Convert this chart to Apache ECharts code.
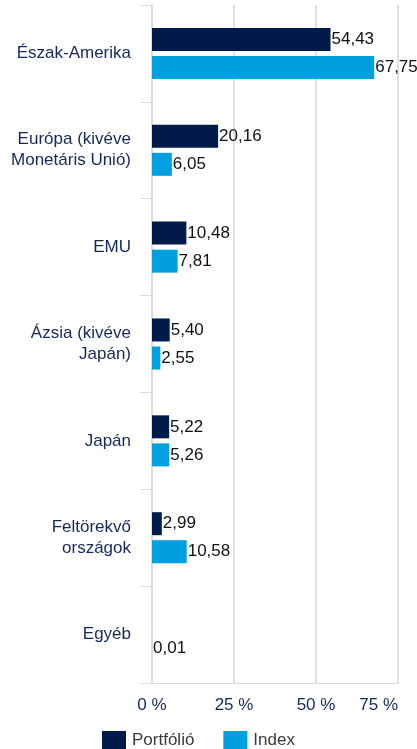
<!DOCTYPE html>
<html>
<head>
<meta charset="utf-8">
<script src="https://cdn.jsdelivr.net/npm/echarts@6/dist/echarts.min.js"></script>
<style>
  html, body { margin: 0; padding: 0; background: #fff; }
  #main { width: 417px; height: 749px; }
</style>
</head>
<body>
<div id="main"></div>
<script>
// régiók felülről lefelé
var categories = ['Észak-Amerika', 'Európa (kivéve\nMonetáris Unió)', 'EMU', 'Ázsia (kivéve\nJapán)', 'Japán', 'Feltörekvő\nországok', 'Egyéb'];
var portfolio = [54.43, 20.16, 10.48, 5.40, 5.22, 2.99, null];
var indexVals = [67.75, 6.05, 7.81, 2.55, 5.26, 10.58, 0.01];
var xTicks = [0, 25, 50, 75];

var myChart = echarts.init(document.getElementById('main'));

function comma(p) {
    if (p.value == null) return '';
    return p.value.toFixed(2).replace('.', ',');
}

var option = {
    animation: false,
    textStyle: { fontFamily: 'Liberation Sans, Arial, sans-serif' },
    grid: { left: 152, right: 19, top: 5, bottom: 66 },
    legend: {
        bottom: 0,
        left: 102,
        padding: 0,
        itemWidth: 24,
        itemHeight: 18,
        itemGap: 29,
        icon: 'rect',
        textStyle: { color: '#3a3a3a', fontSize: 17, padding: [0, 0, 0, 1] },
        data: ['Portfólió', 'Index']
    },
    xAxis: {
        type: 'value',
        min: xTicks[0],
        max: xTicks[xTicks.length - 1],
        interval: 25,
        axisLine: { show: true, lineStyle: { color: '#d9d9d9' } },
        axisTick: { show: false },
        splitLine: { lineStyle: { color: '#d9d9d9', width: 1.5 } },
        axisLabel: {
            color: '#14285a',
            fontSize: 17,
            margin: 14,
            alignMaxLabel: 'right',
            formatter: '{value} %'
        }
    },
    yAxis: {
        type: 'category',
        inverse: true,
        data: categories,
        axisLine: { show: true, lineStyle: { color: '#d9d9d9', width: 1.5 } },
        axisTick: { show: true, length: 12, lineStyle: { color: '#d4dbec' } },
        axisLabel: { color: '#14285a', fontSize: 17, margin: 21, lineHeight: 21, align: 'right' }
    },
    series: [
        {
            name: 'Portfólió',
            type: 'bar',
            data: portfolio,
            barWidth: 23,
            barGap: '22%',
            itemStyle: { color: '#001b4a' },
            label: { show: true, position: 'right', distance: 1, color: '#111', fontSize: 17, formatter: comma }
        },
        {
            name: 'Index',
            type: 'bar',
            data: indexVals,
            barWidth: 23,
            itemStyle: { color: '#009fe0' },
            label: { show: true, position: 'right', distance: 1, color: '#111', fontSize: 17, formatter: comma }
        }
    ]
};

myChart.setOption(option);
</script>
</body>
</html>
